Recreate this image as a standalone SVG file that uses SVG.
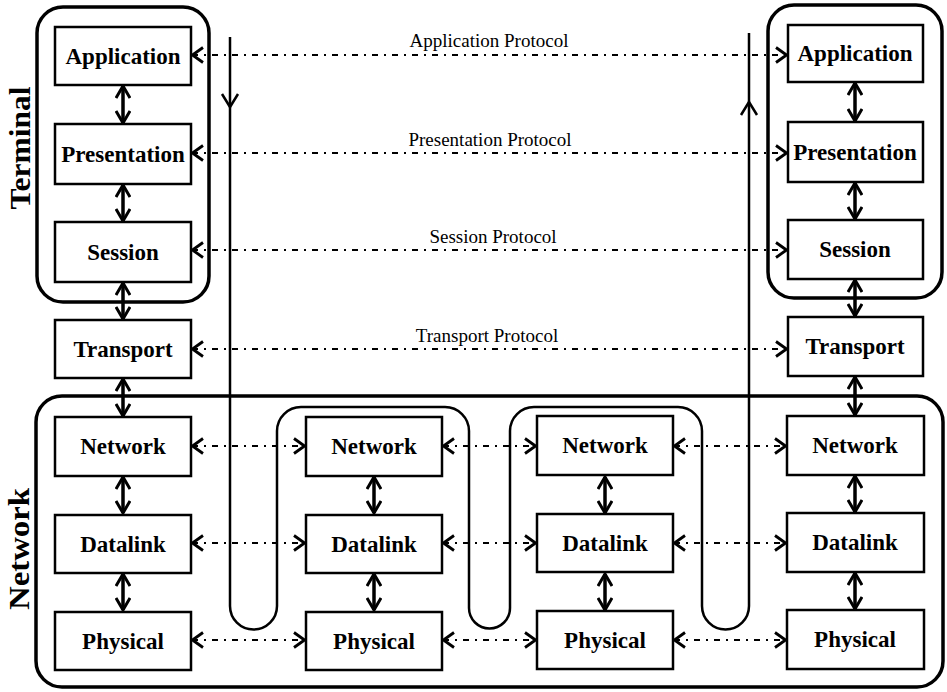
<svg xmlns="http://www.w3.org/2000/svg" width="947" height="692" viewBox="0 0 947 692">
<style>
.box{fill:#fff;stroke:#000;stroke-width:2.5}
.grp{fill:none;stroke:#000;stroke-width:3.5}
.lbl{font-family:"Liberation Serif","Times New Roman",serif;font-weight:bold;font-size:23px;text-anchor:middle;fill:#000}
.big{font-family:"Liberation Serif","Times New Roman",serif;font-weight:bold;font-size:30px;text-anchor:middle;fill:#000}
.pl{font-family:"Liberation Serif","Times New Roman",serif;font-size:19px;text-anchor:middle;fill:#000}
.dd{fill:none;stroke:#000;stroke-width:2;stroke-dasharray:6 6 2 6;marker-start:url(#ch);marker-end:url(#ch)}
.va{fill:none;stroke:#000;stroke-width:3.5;marker-start:url(#vh);marker-end:url(#vh)}
.path{fill:none;stroke:#000;stroke-width:2.5}
</style>
<defs>
<marker id="ch" viewBox="0 0 13 18" refX="12" refY="9" markerWidth="13" markerHeight="18" markerUnits="userSpaceOnUse" orient="auto-start-reverse">
<path d="M1,1.5 L11.5,9 L1,16.5" fill="none" stroke="#000" stroke-width="2.8"/>
</marker>
<marker id="vh" viewBox="0 0 14 16" refX="13" refY="8" markerWidth="14" markerHeight="16" markerUnits="userSpaceOnUse" orient="auto-start-reverse">
<path d="M1,1 L13,8 L1,15" fill="none" stroke="#000" stroke-width="3"/>
</marker>
</defs>

<g id="groups">
<rect id="terminal-left" class="grp" x="37" y="7" width="172" height="295" rx="26"/>
<rect id="terminal-right" class="grp" x="768" y="5" width="174" height="293" rx="26"/>
<rect id="network-group" class="grp" x="36" y="396" width="907" height="291" rx="26"/>
<text class="big" transform="translate(30,148) rotate(-90)" textLength="123" lengthAdjust="spacingAndGlyphs">Terminal</text>
<text class="big" transform="translate(29,549) rotate(-90)" textLength="122" lengthAdjust="spacingAndGlyphs">Network</text>
</g>

<g id="connectors">
<path id="data-path" class="path" d="M230,37 L230,606 A23.5,23.5 0 0 0 277,606 L277,431 A24,24 0 0 1 301,407 L445,407 A24,24 0 0 1 469,431 L469,608 A20.5,20.5 0 0 0 510,608 L510,431 A24,24 0 0 1 534,407 L678,407 A24,24 0 0 1 702,431 L702,606 A23.5,23.5 0 0 0 749,606 L749,33"/>
<path class="path" d="M222,94 L230,107 L238,94"/>
<path class="path" d="M741,115 L749,102 L757,115"/>

<line class="dd" x1="192" y1="55" x2="787" y2="55"/>
<line class="dd" x1="192" y1="153" x2="787" y2="153"/>
<line class="dd" x1="192" y1="250" x2="787" y2="250"/>
<line class="dd" x1="192" y1="349" x2="787" y2="349"/>

<line class="dd" x1="192" y1="446" x2="305" y2="446"/>
<line class="dd" x1="443" y1="446" x2="536" y2="446"/>
<line class="dd" x1="674" y1="446" x2="786" y2="446"/>
<line class="dd" x1="192" y1="543" x2="305" y2="543"/>
<line class="dd" x1="443" y1="543" x2="536" y2="543"/>
<line class="dd" x1="674" y1="543" x2="786" y2="543"/>
<line class="dd" x1="192" y1="640" x2="305" y2="640"/>
<line class="dd" x1="443" y1="640" x2="536" y2="640"/>
<line class="dd" x1="674" y1="640" x2="786" y2="640"/>

<line class="va" x1="123" y1="86" x2="123" y2="123"/>
<line class="va" x1="123" y1="185" x2="123" y2="221"/>
<line class="va" x1="123" y1="283" x2="123" y2="319"/>
<line class="va" x1="123" y1="379" x2="123" y2="416"/>
<line class="va" x1="123" y1="477" x2="123" y2="513"/>
<line class="va" x1="123" y1="574" x2="123" y2="610"/>

<line class="va" x1="374" y1="477" x2="374" y2="513"/>
<line class="va" x1="374" y1="574" x2="374" y2="610"/>
<line class="va" x1="605" y1="477" x2="605" y2="513"/>
<line class="va" x1="605" y1="574" x2="605" y2="610"/>

<line class="va" x1="855" y1="83" x2="855" y2="121"/>
<line class="va" x1="855" y1="183" x2="855" y2="219"/>
<line class="va" x1="855" y1="280" x2="855" y2="316"/>
<line class="va" x1="855" y1="377" x2="855" y2="415"/>
<line class="va" x1="855" y1="476" x2="855" y2="512"/>
<line class="va" x1="855" y1="573" x2="855" y2="609"/>
</g>

<g id="protocol-labels">
<text class="pl" x="489" y="47">Application Protocol</text>
<text class="pl" x="490" y="146">Presentation Protocol</text>
<text class="pl" x="493" y="243">Session Protocol</text>
<text class="pl" x="487" y="342">Transport Protocol</text>
</g>

<g id="app-l"><rect class="box" x="55" y="27" width="136" height="58"/><text class="lbl" x="123" y="64">Application</text></g>
<g id="pres-l"><rect class="box" x="55" y="124" width="136" height="60"/><text class="lbl" x="123" y="162">Presentation</text></g>
<g id="sess-l"><rect class="box" x="55" y="222" width="136" height="60"/><text class="lbl" x="123" y="260">Session</text></g>
<g id="trans-l"><rect class="box" x="55" y="320" width="136" height="58"/><text class="lbl" x="123" y="357">Transport</text></g>
<g id="net-1"><rect class="box" x="55" y="417" width="136" height="59"/><text class="lbl" x="123" y="454">Network</text></g>
<g id="dl-1"><rect class="box" x="55" y="515" width="136" height="58"/><text class="lbl" x="123" y="552">Datalink</text></g>
<g id="ph-1"><rect class="box" x="55" y="612" width="136" height="58"/><text class="lbl" x="123" y="649">Physical</text></g>

<g id="net-2"><rect class="box" x="306" y="417" width="136" height="59"/><text class="lbl" x="374" y="454">Network</text></g>
<g id="dl-2"><rect class="box" x="306" y="515" width="136" height="58"/><text class="lbl" x="374" y="552">Datalink</text></g>
<g id="ph-2"><rect class="box" x="306" y="612" width="136" height="58"/><text class="lbl" x="374" y="649">Physical</text></g>

<g id="net-3"><rect class="box" x="537" y="416" width="136" height="59"/><text class="lbl" x="605" y="453">Network</text></g>
<g id="dl-3"><rect class="box" x="537" y="514" width="136" height="58"/><text class="lbl" x="605" y="551">Datalink</text></g>
<g id="ph-3"><rect class="box" x="537" y="611" width="136" height="58"/><text class="lbl" x="605" y="648">Physical</text></g>

<g id="app-r"><rect class="box" x="788" y="25" width="135" height="57"/><text class="lbl" x="855" y="61">Application</text></g>
<g id="pres-r"><rect class="box" x="788" y="122" width="135" height="60"/><text class="lbl" x="855" y="160">Presentation</text></g>
<g id="sess-r"><rect class="box" x="788" y="220" width="135" height="59"/><text class="lbl" x="855" y="257">Session</text></g>
<g id="trans-r"><rect class="box" x="788" y="317" width="135" height="59"/><text class="lbl" x="855" y="354">Transport</text></g>
<g id="net-4"><rect class="box" x="787" y="416" width="137" height="59"/><text class="lbl" x="855" y="453">Network</text></g>
<g id="dl-4"><rect class="box" x="787" y="513" width="137" height="59"/><text class="lbl" x="855" y="550">Datalink</text></g>
<g id="ph-4"><rect class="box" x="787" y="610" width="137" height="59"/><text class="lbl" x="855" y="647">Physical</text></g>
</svg>
